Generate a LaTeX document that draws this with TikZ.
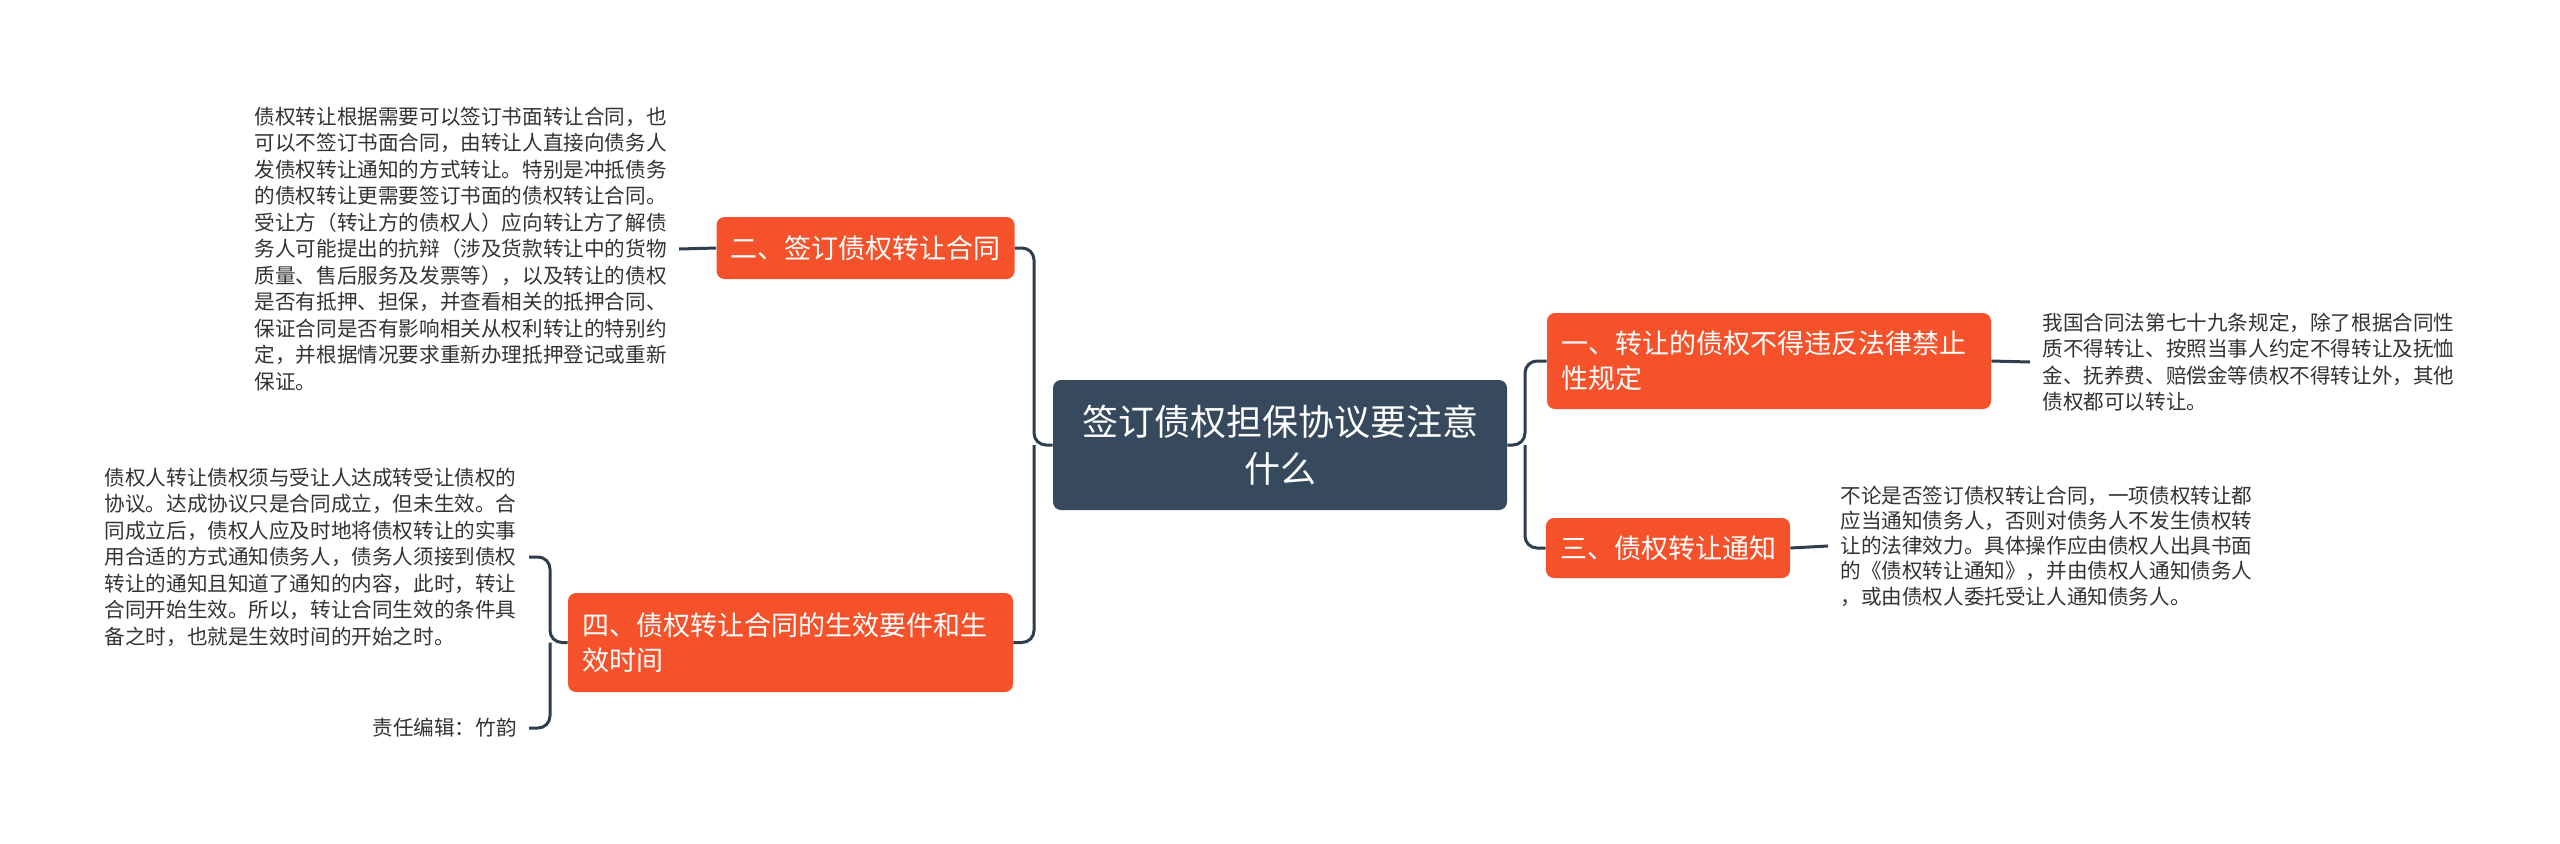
\documentclass[tikz,border=0pt]{standalone}
\usepackage{fontspec}
\newfontfamily\cjk{Noto Sans CJK SC}
\usetikzlibrary{positioning}
\definecolor{topic}{RGB}{54,73,93}
\definecolor{branch}{RGB}{245,82,43}
\definecolor{wire}{RGB}{46,62,79}
\definecolor{note}{RGB}{51,51,51}

\begin{document}
\begin{tikzpicture}[x=0.5pt, y=-0.5pt,
  root/.style={fill=topic, rounded corners=4pt, text=white, align=center,
    font=\cjk\fontsize{18}{23.5}\selectfont, minimum width=227pt, minimum height=65pt},
  sub/.style={fill=branch, rounded corners=4pt, text=white, align=left, inner xsep=7pt,
    font=\cjk\fontsize{13.5}{17.5}\selectfont},
  leaf/.style={text=note, align=left, inner xsep=6pt, font=\cjk\fontsize{10.3}{13.25}\selectfont},
  link/.style={draw=wire, line width=1.5pt, rounded corners=6pt}]
  \path[use as bounding box, fill=white] (0,0) rectangle (2560,843);

  \node[root] (root) at (1280,445) {签订债权担保协议要注意\\什么};

  \node[sub, text width=208pt, minimum height=48pt] (n1) at (1769,361)
    {一、转让的债权不得违反法律禁止\\性规定};
  \node[sub, minimum width=147.5pt, minimum height=31pt] (n2) at (865.5,248) {二、签订债权转让合同};
  \node[sub, minimum width=120pt, minimum height=30pt] (n3) at (1668,548) {三、债权转让通知};
  \node[sub, text width=208.5pt, minimum height=49.5pt] (n4) at (790.5,642.5)
    {四、债权转让合同的生效要件和生\\效时间};

  \node[leaf, anchor=west] (t1) at (2030,362) {我国合同法第七十九条规定，除了根据合同性\\
    质不得转让、按照当事人约定不得转让及抚恤\\金、抚养费、赔偿金等债权不得转让外，其他\\
    债权都可以转让。};
  \node[leaf, anchor=east] (t2) at (679,249) {债权转让根据需要可以签订书面转让合同，也\\
    可以不签订书面合同，由转让人直接向债务人\\发债权转让通知的方式转让。特别是冲抵债务\\
    的债权转让更需要签订书面的债权转让合同。\\受让方（转让方的债权人）应向转让方了解债\\
    务人可能提出的抗辩（涉及货款转让中的货物\\质量、售后服务及发票等），以及转让的债权\\
    是否有抵押、担保，并查看相关的抵押合同、\\保证合同是否有影响相关从权利转让的特别约\\
    定，并根据情况要求重新办理抵押登记或重新\\保证。};
  \node[leaf, anchor=west, font=\cjk\fontsize{10.3}{12.6}\selectfont] (t3) at (1828,546)
    {不论是否签订债权转让合同，一项债权转让都\\应当通知债务人，否则对债务人不发生债权转\\
    让的法律效力。具体操作应由债权人出具书面\\的《债权转让通知》，并由债权人通知债务人\\
    ，或由债权人委托受让人通知债务人。};
  \node[leaf, anchor=east] (t4) at (529,557) {债权人转让债权须与受让人达成转受让债权的\\
    协议。达成协议只是合同成立，但未生效。合\\同成立后，债权人应及时地将债权转让的实事\\
    用合适的方式通知债务人，债务人须接到债权\\转让的通知且知道了通知的内容，此时，转让\\
    合同开始生效。所以，转让合同生效的条件具\\备之时，也就是生效时间的开始之时。};
  \node[leaf, anchor=east] (ed) at (529,728) {责任编辑：竹韵};

  \coordinate (rj) at (1525,445);
  \coordinate (lj) at (1034,445);
  \coordinate (bj) at (550,642.5);

  \draw[link] (root.east) -- (rj) |- (n1.west);
  \draw[link] (rj) |- (n3.west);
  \draw[link] (root.west) -- (lj) |- (n2.east);
  \draw[link] (lj) |- (n4.east);
  \draw[link] (n1.east) -- (t1.west);
  \draw[link] (n2.west) -- (t2.east);
  \draw[link] (n3.east) -- (t3.west);
  \draw[link] (n4.west) -- (bj) |- (t4.east);
  \draw[link] (bj) |- (ed.east);
\end{tikzpicture}
\end{document}
